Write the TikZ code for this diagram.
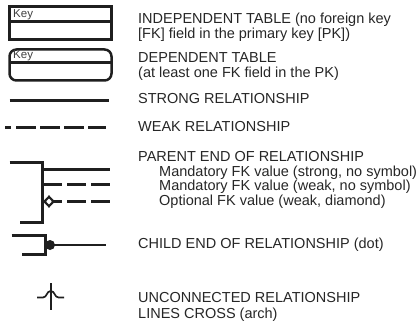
\documentclass[tikz,border=0pt]{standalone}
\usepackage{fontspec}
\setmainfont{Liberation Sans}
\tikzset{
  lbl/.style={anchor=base west,inner sep=0pt,font=\fontsize{14.5}{16}\selectfont,text=black!85},
  keylbl/.style={anchor=base west,inner sep=0pt,font=\fontsize{11.5}{13}\selectfont,text=black!75},
  tbl/.style={line width=2.8pt,draw=black!88},
  thin rel/.style={line width=2.2pt,draw=black!88},
  dash rel/.style={line width=2.8pt,draw=black!88},
  frame rel/.style={line width=2.5pt,draw=black!88,line join=miter},
  fine rel/.style={line width=1.7pt,draw=black!88}
}
\begin{document}
\begin{tikzpicture}[x=1pt,y=-1pt]
\useasboundingbox (0,0) rectangle (417,323);
% independent table
\draw[tbl] (9.5,6.5) rectangle (111.5,39.5);
\draw[thin rel] (9.5,21.5) -- (111.5,21.5);
\node[keylbl] (k1) at (13,18) {Key};
% dependent table
\draw[frame rel,rounded corners=7pt] (9.5,49.5) rectangle (111.5,80.5);
\draw[thin rel] (9.5,62.5) -- (111.5,62.5);
\node[keylbl] (k2) at (13,58.5) {Key};
% strong
\draw[thin rel] (9.5,100.5) -- (109,100.5);
% weak
\draw[dash rel] (5,127.5) -- (11,127.5);
\foreach \a/\b in {16/36,40/60,64/84,88/106} \draw[dash rel] (\a,127.5) -- (\b,127.5);
% parent end
\draw[frame rel] (9.5,162.5) -- (42.5,162.5) -- (42.5,222.5) -- (19.5,222.5);
\draw[thin rel] (42,169.5) -- (109.5,169.5);
\foreach \a/\b in {44/62,67/86,91/110} \draw[dash rel] (\a,184.5) -- (\b,184.5);
\draw[dash rel] (53,201.5) -- (62,201.5);
\foreach \a/\b in {67/86,91/110} \draw[dash rel] (\a,201.5) -- (\b,201.5);
\draw[line width=2.2pt,draw=black!88,fill=white] (44.5,201.5) -- (49,196.8) -- (53.5,201.5) -- (49,206.2) -- cycle;
% child end
\draw[frame rel] (11.5,235.5) -- (45.5,235.5) -- (45.5,254.5) -- (21.5,254.5);
\draw[fine rel] (50,245) -- (106,245);
\fill[black!88] (50,245) circle (5);
% unconnected arch
\draw[fine rel] (50.7,283) -- (50.7,309.5);
\draw[fine rel] (37,297.5) -- (43,297.5) .. controls (47,297.5) and (46.5,291) .. (50.7,291) .. controls (55,291) and (54.5,297.5) .. (58.5,297.5) -- (64,297.5);
% labels
\node[lbl] (t1) at (138,24) {INDEPENDENT TABLE (no foreign key};
\node[lbl] (t2) at (138,39) {[FK] field in the primary key [PK])};
\node[lbl] (t3) at (138,63) {DEPENDENT TABLE};
\node[lbl] (t4) at (138,78) {(at least one FK field in the PK)};
\node[lbl] (t5) at (138,104) {STRONG RELATIONSHIP};
\node[lbl] (t6) at (138,132) {WEAK RELATIONSHIP};
\node[lbl] (t7) at (138,161) {PARENT END OF RELATIONSHIP};
\node[lbl] (t8) at (159,176) {Mandatory FK value (strong, no symbol)};
\node[lbl] (t9) at (159,190) {Mandatory FK value (weak, no symbol)};
\node[lbl] (t10) at (159,205) {Optional FK value (weak, diamond)};
\node[lbl] (t11) at (138,248) {CHILD END OF RELATIONSHIP (dot)};
\node[lbl] (t12) at (138,302) {UNCONNECTED RELATIONSHIP};
\node[lbl] (t13) at (138,318) {LINES CROSS (arch)};
\end{tikzpicture}
\end{document}
